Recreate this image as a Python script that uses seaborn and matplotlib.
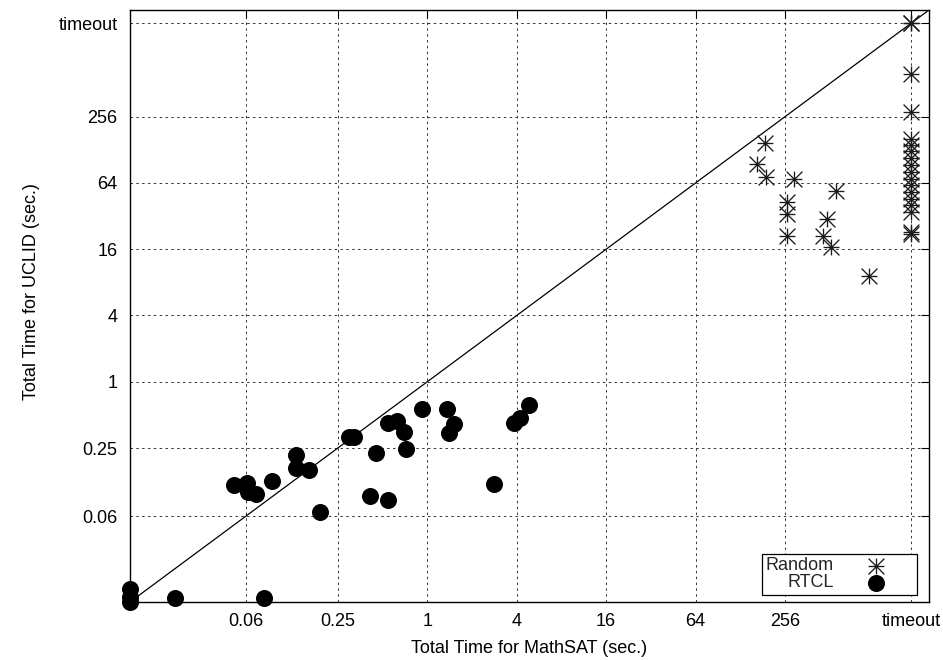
import matplotlib
matplotlib.use('Agg')
import matplotlib.pyplot as plt
from matplotlib.path import Path
from matplotlib.ticker import NullLocator
import seaborn as sns

# ---- data (seconds) ----
tick_values = [0.06, 0.25, 1, 4, 16, 64, 256, 1800]
tick_labels = ['0.06', '0.25', '1', '4', '16', '64', '256', 'timeout']

random_x = [188, 165, 190, 294, 263, 265, 263, 561, 488, 459, 523, 941,
            1800, 1800, 1800, 1800, 1800, 1800, 1800, 1800, 1800,
            1800, 1800, 1800, 1800, 1800, 1800, 1800, 1800, 1800]
random_y = [146, 96, 72.5, 69, 43, 33.3, 21, 54, 30.4, 21.3, 16.7, 9.1,
            628, 282, 162, 141, 124, 108, 94, 80.6, 70, 61, 53, 46, 40,
            35, 23, 22, 1800, 1800]

rtcl_x = [0.050, 0.061, 0.062, 0.070, 0.090, 0.130, 0.130, 0.160, 0.19,
          0.297, 0.324, 0.449, 0.411, 0.543, 0.628, 0.703, 0.72, 0.543,
          0.924, 1.36, 1.51, 1.395, 2.8, 3.81, 4.23, 4.81,
          0.01, 0.01, 0.01, 0.02, 0.08]
rtcl_y = [0.116, 0.12, 0.099, 0.096, 0.125, 0.217, 0.165, 0.157, 0.066,
          0.318, 0.318, 0.225, 0.092, 0.42, 0.436, 0.349, 0.245, 0.085,
          0.565, 0.565, 0.413, 0.346, 0.119, 0.42, 0.468, 0.617,
          0.0130, 0.0112, 0.0101, 0.0109, 0.0109]

diag = [0.01, 2380]
axis_min, axis_max = 0.01, 2380

# ---- style ----
sns.set_theme(style='white')
plt.rcParams['font.family'] = ['Liberation Sans', 'DejaVu Sans']

fig = plt.figure(figsize=(9.43, 6.60), dpi=100)
ax = fig.add_axes([130 / 943, 58 / 660, 799 / 943, 592 / 660])

ax.set_xscale('log', base=2)
ax.set_yscale('log', base=2)

star = Path([(-1, 0), (1, 0), (0, -1), (0, 1), (-1, -1), (1, 1), (-1, 1), (1, -1)],
            [Path.MOVETO, Path.LINETO] * 4)

sns.lineplot(x=diag, y=diag, color='black', linewidth=0.9, ax=ax, zorder=2,
             legend=False)
sns.scatterplot(x=random_x, y=random_y, marker=star, s=130, color='#1a1a1a',
                edgecolor='#1a1a1a', linewidth=0.95, label='Random', ax=ax,
                clip_on=False, zorder=3)
sns.scatterplot(x=rtcl_x, y=rtcl_y, marker='o', s=150, color='black',
                edgecolor='black', linewidth=0, label='RTCL', ax=ax,
                clip_on=False, zorder=3)

ax.set_xlim(axis_min, axis_max)
ax.set_ylim(axis_min, axis_max)
ax.set_xticks(tick_values)
ax.set_xticklabels(tick_labels)
ax.set_yticks(tick_values)
ax.set_yticklabels(tick_labels)
ax.xaxis.set_minor_locator(NullLocator())
ax.yaxis.set_minor_locator(NullLocator())

ax.grid(True, which='major', color='0.2', linestyle=(0, (2.5, 3.5)), linewidth=0.7)
ax.set_axisbelow(True)

ax.tick_params(which='major', direction='in', length=6, width=0.8, top=True,
               right=True, labelsize=13, colors='black')
ax.tick_params(axis='x', pad=8)
ax.tick_params(axis='y', pad=9)
for sp in ax.spines.values():
    sp.set_color('black')
    sp.set_linewidth(1.0)

ax.set_xlabel('Total Time for MathSAT (sec.)', fontsize=13, color='black')
ax.xaxis.set_label_coords(0.5, -0.064)
ax.set_ylabel('Total Time for UCLID (sec.)', fontsize=13, color='black')
ax.yaxis.set_label_coords(-0.113, 0.524)

leg = ax.legend(loc='lower right', bbox_to_anchor=(0.985, 0.012), borderaxespad=0,
                markerfirst=False, frameon=True, fancybox=False, edgecolor='black',
                framealpha=1, fontsize=13, borderpad=0.2, labelspacing=0.0,
                handletextpad=0.3, handlelength=4.1, scatterpoints=1)
leg.get_frame().set_linewidth(0.9)

fig.savefig('out.png', dpi=100)
